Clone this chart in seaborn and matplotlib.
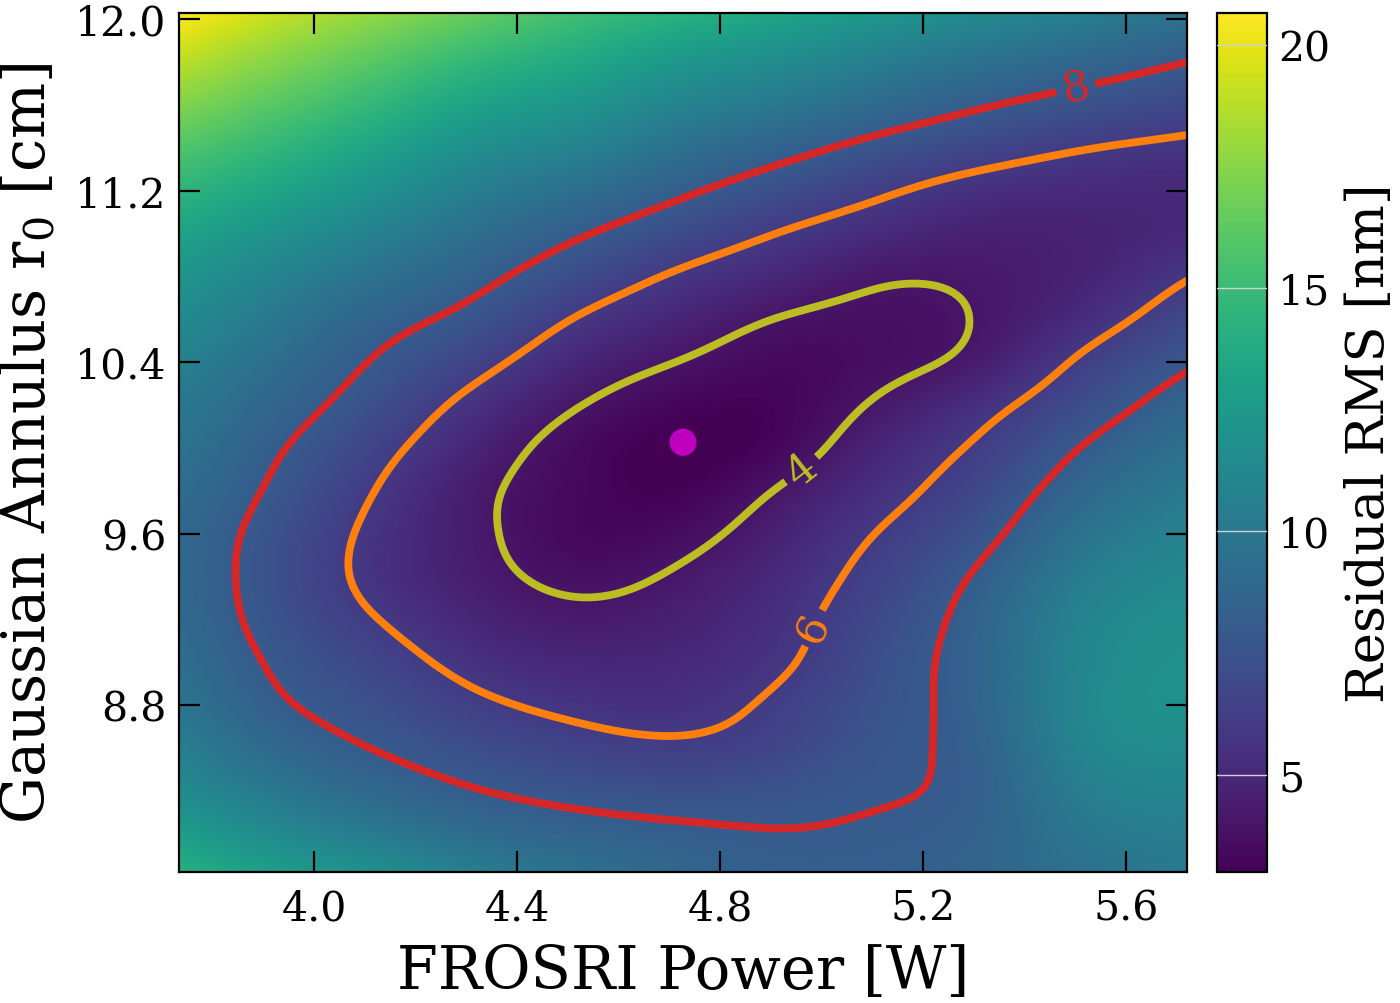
import numpy as np
import matplotlib
matplotlib.use("Agg")
import matplotlib.pyplot as plt
from matplotlib.ticker import FormatStrFormatter
import seaborn as sns

# ---------------- data ----------------
# grid positions
power_w = [3.72, 3.92, 4.12, 4.32, 4.52, 4.72, 4.92, 5.12, 5.32, 5.52, 5.72]
r0_cm = [8.0, 8.2, 8.4, 8.6, 8.8, 9.0, 9.2, 9.4, 9.6, 9.8, 10.0,
         10.2, 10.4, 10.6, 10.8, 11.0, 11.2, 11.4, 11.6, 11.8, 12.0]

# residual RMS [nm] along each power column, r0 from 8.0 (first) to 12.0 (last)
rms_p372 = [14.4, 12.9, 11.6, 10.7, 10.0, 9.5, 9.2, 9.05, 9.1, 9.4, 9.8,
            10.2, 10.8, 11.5, 12.3, 13.3, 14.5, 15.9, 17.4, 18.9, 20.6]
rms_p392 = [13.0, 11.4, 10.0, 9.0, 8.25, 7.85, 7.5, 7.35, 7.45, 7.8, 8.2,
            8.75, 9.35, 10.05, 10.9, 12.0, 13.3, 14.6, 16.0, 17.4, 18.9]
rms_p412 = [12.0, 10.2, 8.9, 7.95, 7.3, 6.7, 6.05, 5.6, 5.65, 6.0, 6.55,
            7.25, 7.9, 8.6, 9.6, 10.7, 11.9, 13.2, 14.6, 16.0, 17.5]
rms_p432 = [10.6, 9.2, 8.05, 7.15, 6.3, 5.5, 4.85, 4.4, 4.25, 4.3, 4.75,
            5.5, 6.5, 7.5, 8.4, 9.35, 10.45, 11.7, 13.1, 14.6, 16.2]
rms_p452 = [9.7, 8.6, 7.55, 6.55, 5.65, 4.95, 4.3, 3.75, 3.4, 3.4, 3.5,
            4.05, 4.9, 5.9, 7.05, 8.15, 9.4, 10.8, 12.15, 13.55, 15.0]
rms_p472 = [8.9, 8.25, 7.3, 6.25, 5.5, 5.05, 4.6, 4.15, 3.6, 3.15, 3.0,
            3.3, 3.97, 4.8, 5.8, 7.0, 8.25, 9.5, 10.9, 12.3, 14.0]
rms_p492 = [8.4, 8.05, 7.5, 6.75, 6.3, 5.8, 5.5, 5.15, 4.7, 4.1, 3.4,
            3.25, 3.45, 3.95, 4.9, 5.95, 7.2, 8.5, 10.0, 11.45, 13.0]
rms_p512 = [8.4, 8.15, 7.9, 7.7, 7.5, 7.3, 7.0, 6.6, 6.1, 5.5, 4.9,
            4.2, 3.7, 3.75, 4.15, 5.1, 6.2, 7.5, 9.0, 10.4, 12.0]
rms_p532 = [8.8, 8.6, 8.5, 8.6, 8.75, 8.8, 8.7, 8.3, 7.6, 6.95, 6.3,
            5.5, 4.45, 4.1, 4.2, 4.6, 5.4, 6.7, 8.1, 9.5, 11.1]
rms_p552 = [9.5, 10.0, 10.5, 11.0, 11.2, 11.1, 10.9, 10.4, 9.7, 8.9, 8.1,
            7.2, 6.3, 5.3, 4.75, 4.7, 5.1, 6.05, 7.4, 8.75, 10.3]
rms_p572 = [10.1, 10.5, 11.0, 11.5, 11.9, 11.9, 11.7, 11.3, 10.8, 10.2, 9.5,
            8.7, 7.8, 6.9, 5.9, 5.1, 5.1, 5.7, 6.8, 8.0, 9.5]

contour_levels = [4, 6, 8]
best_power = [4.727]
best_r0 = [10.026]

x_ticks = [4.0, 4.4, 4.8, 5.2, 5.6]
y_ticks = [8.8, 9.6, 10.4, 11.2, 12.0]
cbar_ticks = [5, 10, 15, 20]


def natural_spline(xk, yk, xq):
    """Smooth (C2) resampling of the sampled values yk (along axis 0) at xq."""
    xk = np.asarray(xk, float)
    yk = np.asarray(yk, float)
    n = len(xk)
    h = np.diff(xk)
    A = np.zeros((n, n))
    r = np.zeros((n,) + yk.shape[1:])
    A[0, 0] = A[-1, -1] = 1.0
    for i in range(1, n - 1):
        A[i, i - 1] = h[i - 1]
        A[i, i] = 2 * (h[i - 1] + h[i])
        A[i, i + 1] = h[i]
        r[i] = 6 * ((yk[i + 1] - yk[i]) / h[i] - (yk[i] - yk[i - 1]) / h[i - 1])
    M = np.linalg.solve(A, r)
    idx = np.clip(np.searchsorted(xk, xq) - 1, 0, n - 2)
    x0, x1 = xk[idx], xk[idx + 1]
    hh = x1 - x0
    a = ((x1 - xq) / hh)
    b = ((xq - x0) / hh)
    sh = (-1,) + (1,) * (yk.ndim - 1)
    a, b, hh = a.reshape(sh), b.reshape(sh), hh.reshape(sh)
    return (a * yk[idx] + b * yk[idx + 1]
            + ((a ** 3 - a) * M[idx] + (b ** 3 - b) * M[idx + 1]) * hh ** 2 / 6)


# ---------------- style ----------------
sns.set_theme(style="ticks")
plt.rcParams["font.family"] = ["DejaVu Serif"]
plt.rcParams["mathtext.fontset"] = "dejavuserif"
for key in ["text.color", "axes.labelcolor", "xtick.color", "ytick.color", "axes.edgecolor"]:
    plt.rcParams[key] = "black"

tab = sns.color_palette("tab10")
level_colors = [tab[8], tab[1], tab[3]]  # olive, orange, red

fig = plt.figure(figsize=(14, 10.04), dpi=100)
ax = fig.add_axes([179 / 1400, 1 - 873 / 1004, 1008 / 1400, 859 / 1004])
cax = fig.add_axes([1217 / 1400, 1 - 873 / 1004, 50 / 1400, 859 / 1004])

Z = np.column_stack([rms_p372, rms_p392, rms_p412, rms_p432, rms_p452, rms_p472,
                     rms_p492, rms_p512, rms_p532, rms_p552, rms_p572])

# smooth resampling of the read grid for display
xf = np.linspace(power_w[0], power_w[-1] + 0.01, 402)
yf = np.linspace(r0_cm[0], r0_cm[-1] + 0.04, 405)
Zy = natural_spline(r0_cm, Z, yf)                 # (len(yf), nx)
Zf = natural_spline(power_w, Zy.T, xf).T          # (len(yf), len(xf))

im = ax.imshow(Zf, origin="lower", cmap="viridis", vmin=3.0, vmax=20.65,
               extent=[xf[0], xf[-1], yf[0], yf[-1]],
               interpolation="bilinear", aspect="auto", zorder=0)

cs = ax.contour(xf, yf, Zf, levels=contour_levels, colors=level_colors,
                linewidths=5.6, zorder=2)
ax.clabel(cs, fmt="%d", fontsize=31, inline=True, inline_spacing=6,
          manual=[(5.50, 11.69), (4.952, 9.923), (4.967, 9.177)])

sns.scatterplot(x=best_power, y=best_r0, ax=ax, color="#bf00bf", s=380, edgecolor="none",
                legend=False, zorder=5)

ax.set_xlim(3.734, 5.72)
ax.set_ylim(8.02, 12.03)
ax.set_xticks(x_ticks)
ax.set_yticks(y_ticks)
ax.xaxis.set_major_formatter(FormatStrFormatter("%.1f"))
ax.yaxis.set_major_formatter(FormatStrFormatter("%.1f"))
ax.tick_params(direction="in", top=True, right=True, length=15, width=1.6,
               labelsize=29.5, color="black")
ax.tick_params(axis="x", pad=12)
ax.tick_params(axis="y", pad=9)
for sp in ax.spines.values():
    sp.set_linewidth(1.6)
    sp.set_color("black")
ax.set_xlabel("FROSRI Power [W]", fontsize=42.5, labelpad=10)
ax.set_ylabel("Gaussian Annulus r$_0$ [cm]", fontsize=42.5, labelpad=12)

cb = fig.colorbar(im, cax=cax)
cb.set_ticks(cbar_ticks)
cax.tick_params(direction="in", length=15, width=1.6, labelsize=29.5, pad=8, color="black")
cb.outline.set_linewidth(1.6)
cb.outline.set_edgecolor("black")
for t in cbar_ticks:
    cax.axhline(t, xmin=0, xmax=1, color="0.82", lw=1.0, zorder=3)
cb.set_label("Residual RMS [nm]", fontsize=38, labelpad=10)

fig.savefig("out.png", dpi=100)
